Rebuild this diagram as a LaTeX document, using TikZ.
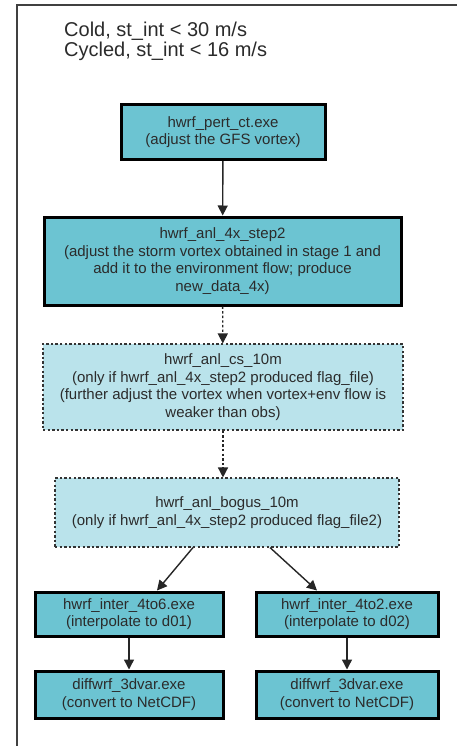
\documentclass[tikz,border=0pt]{standalone}
\usepackage{fontspec}
\setmainfont{Liberation Sans}
\usetikzlibrary{arrows.meta,calc}
\definecolor{tealfill}{HTML}{6CC4D2}
\definecolor{palefill}{HTML}{BAE3EB}
\definecolor{inkgray}{HTML}{2B2B2B}
\begin{document}
\begin{tikzpicture}[x=1pt,y=-1pt,
  every node/.style={text=inkgray, font=\fontsize{15}{17.5}\selectfont, align=center, inner sep=0pt},
  solidbox/.style={draw=black, line width=3pt, fill=tealfill, rectangle},
  dotbox/.style={draw=black!80, line width=1.1pt, dash pattern=on 2.4pt off 2.2pt, fill=palefill, rectangle},
  flow/.style={draw=black!85, line width=1.4pt, -{Triangle[length=10pt,width=10pt]}},
  dotflow/.style={flow, dash pattern=on 2.4pt off 2.2pt}]
\useasboundingbox (0,0) rectangle (457,746);
\fill[white] (0,0) rectangle (457,746);
% outer frame: only its top and left sides fall inside the page
\draw[black!75, line width=2pt] (17,746) -- (17,5) -- (457,5);

\node[anchor=west, align=left, font=\fontsize{20}{20}\selectfont] (hdr) at (64,41)
  {Cold, st\_int < 30 m/s\\Cycled, st\_int < 16 m/s};

\node[solidbox, minimum width=204, minimum height=55] (pert) at (223,132)
  {hwrf\_pert\_ct.exe\\(adjust the GFS vortex)};
\node[solidbox, minimum width=357, minimum height=88] (step2) at (222.5,261)
  {hwrf\_anl\_4x\_step2\\(adjust the storm vortex obtained in stage 1 and\\add it to the environment flow; produce\\new\_data\_4x)};
\node[dotbox, minimum width=360, minimum height=86] (cs) at (223,387)
  {hwrf\_anl\_cs\_10m\\(only if hwrf\_anl\_4x\_step2 produced flag\_file)\\(further adjust the vortex when vortex+env flow is\\weaker than obs)};
\node[dotbox, minimum width=344, minimum height=69] (bogus) at (227,512.5)
  {hwrf\_anl\_bogus\_10m\\(only if hwrf\_anl\_4x\_step2 produced flag\_file2)};
\node[solidbox, minimum width=188, minimum height=44] (i6) at (129,614)
  {hwrf\_inter\_4to6.exe\\(interpolate to d01)};
\node[solidbox, minimum width=182, minimum height=44] (i2) at (347,614)
  {hwrf\_inter\_4to2.exe\\(interpolate to d02)};
\node[solidbox, minimum width=188, minimum height=47] (d6) at (129,694.5)
  {diffwrf\_3dvar.exe\\(convert to NetCDF)};
\node[solidbox, minimum width=182, minimum height=47] (d2) at (347,694.5)
  {diffwrf\_3dvar.exe\\(convert to NetCDF)};

\draw[flow] (pert) -- (step2);
\draw[dotflow] (step2) -- (cs);
\draw[dotflow] (cs.south) -- (cs.south |- bogus.north);
\draw[flow] ([xshift=-34pt]bogus.south) -- ([xshift=28pt]i6.north);
\draw[flow] ([xshift=43pt]bogus.south) -- ([xshift=-30pt]i2.north);
\draw[flow] (i6) -- (d6);
\draw[flow] (i2) -- (d2);
\end{tikzpicture}
\end{document}
